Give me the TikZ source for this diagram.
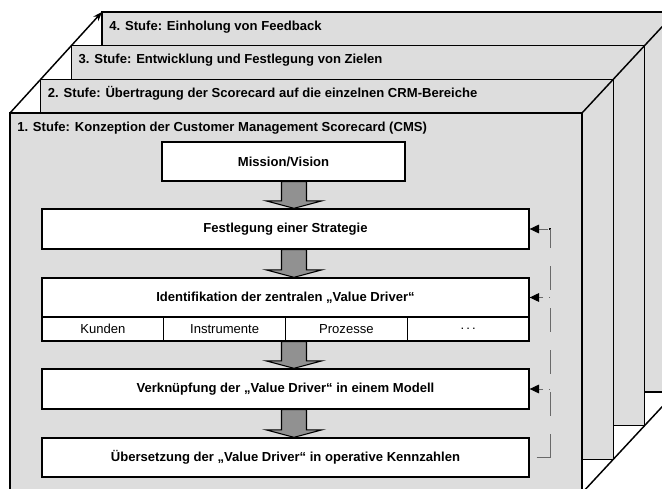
\documentclass[tikz,border=0pt]{standalone}
\usepackage{fontspec}
\setmainfont{Liberation Sans}
\usetikzlibrary{arrows.meta,calc}

\definecolor{layergray}{RGB}{221,221,221}
\definecolor{arrowgray}{RGB}{145,145,145}
\definecolor{fbgray}{RGB}{105,105,105}

\tikzset{
  layer/.style={draw, line width=1.1pt, fill=layergray},
  stufetext/.style={anchor=base west, inner sep=0pt, font=\fontsize{9.8}{12}\selectfont\bfseries},
  whitebox/.style={draw, line width=1pt, fill=white, minimum width=365.25pt, minimum height=30pt, inner sep=0pt, font=\fontsize{9.8}{12}\selectfont\bfseries},
  cellbox/.style={draw, line width=1pt, fill=white, minimum width=91.3pt, minimum height=18pt, inner sep=0pt, font=\fontsize{9.8}{12}\selectfont},
  blockarrow/.style={draw, line width=0.8pt, fill=arrowgray, line join=miter},
  fbline/.style={draw=fbgray, line width=0.75pt, dash pattern=on 18pt off 13.5pt},
  fbstub/.style={draw=fbgray, line width=0.75pt, dash pattern=on 0.75pt off 4.5pt on 20pt off 0pt,
    -{Triangle[length=7pt, width=6.5pt, black]}},
}

\newcommand{\blockarr}[2]{%
  \draw[blockarrow] ($(ax |- #1.south)+(-12.5,0)$) -- ($(ax |- #2.north)+(-12.5,-7.5)$)
    -- ($(ax |- #2.north)+(-28,-7.5)$) -- (ax |- #2.north) -- ($(ax |- #2.north)+(28,-7.5)$)
    -- ($(ax |- #2.north)+(12.5,-7.5)$) -- ($(ax |- #1.south)+(12.5,0)$) -- cycle;}

\begin{document}
\begin{tikzpicture}[x=0.75pt, y=-0.75pt]
\useasboundingbox (0,0) rectangle (662,489);
\clip (0,0) rectangle (662,489);

\foreach \k/\txt in {4/{4. Stufe: Einholung von Feedback},
                     3/{3. Stufe: Entwicklung und Festlegung von Zielen},
                     2/{2. Stufe: Übertragung der Scorecard auf die einzelnen CRM-Bereiche},
                     1/{1. Stufe: Konzeption der Customer Management Scorecard (CMS)}}{
  \pgfmathsetmacro{\lx}{10+30.7*(\k-1)}
  \pgfmathsetmacro{\rx}{582+31.3*(\k-1)}
  \pgfmathsetmacro{\ty}{113-33.7*(\k-1)}
  \pgfmathsetmacro{\by}{493-33.7*(\k-1)}
  \draw[layer] (\lx,\ty) rectangle (\rx,\by);
  \node[stufetext] (stufe\k) at (\lx+7,\ty+18.2) {\txt};
  \coordinate (tl\k) at (\lx,\ty);
  \coordinate (tr\k) at (\rx,\ty);
  \coordinate (br\k) at (\rx,\by);
}
\draw[line width=1.1pt] (tr1) -- (tr4);
\draw[line width=1.1pt] (br1) -- (br4);
\draw[line width=1.1pt, -{Stealth[length=7pt, width=5pt]}] (tl1) -- (tl4);

\node[whitebox, minimum width=182.25pt, minimum height=29.25pt] (mission) at (283.5,161.5) {Mission/Vision};
\node[whitebox] (strategie) at (285.5,229) {Festlegung einer Strategie};
\node[whitebox, minimum height=29.25pt] (identifikation) at (285.5,297.5) {Identifikation der zentralen „Value Driver“};
\foreach \i/\txt in {1/Kunden, 2/Instrumente, 3/Prozesse, 4/{.\,.\,.}}
  \node[cellbox] (cell\i) at (42+121.75*\i-60.875,329) {\txt};
\node[whitebox] (verknuepfung) at (285.5,389) {Verknüpfung der „Value Driver“ in einem Modell};
\node[whitebox, minimum height=29.25pt] (uebersetzung) at (285.5,457.5) {Übersetzung der „Value Driver“ in operative Kennzahlen};

\coordinate (ax) at (294,0);
\blockarr{mission}{strategie}
\blockarr{strategie}{identifikation}
\blockarr{cell2}{verknuepfung}
\blockarr{verknuepfung}{uebersetzung}

\coordinate (fbx) at (550,0);
\coordinate (fbstart) at ($(uebersetzung.east)+(7,0)$);
\node[fill, inner sep=0pt, minimum size=2pt] (fbcorner) at (fbx |- strategie.east) {};
\draw[fbgray, line width=0.75pt] (fbstart) -- (fbx |- fbstart);
\draw[fbline] (fbx |- fbstart) -- (fbcorner.center);
\draw[fbgray, line width=0.75pt, -{Triangle[length=7pt, width=6.5pt, black]}] (fbcorner) -- (strategie.east);
\draw[fbstub] (fbx |- identifikation.east) -- (identifikation.east);
\draw[fbstub] (fbx |- verknuepfung.east) -- (verknuepfung.east);
\end{tikzpicture}
\end{document}
